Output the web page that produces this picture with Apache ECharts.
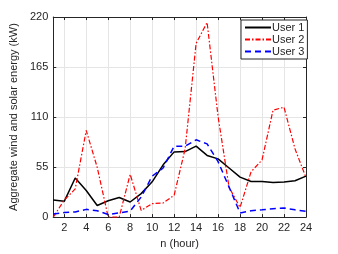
<!DOCTYPE html>
<html><head><meta charset="utf-8">
<script src="https://cdn.jsdelivr.net/npm/echarts@6/dist/echarts.min.js"></script>
<style>html,body{margin:0;padding:0;background:#fff}#c{width:338px;height:254px}</style>
</head><body><div id="c"></div>
<script>
const hours = [1,2,3,4,5,6,7,8,9,10,11,12,13,14,15,16,17,18,19,20,21,22,23,24];
const user1 = [18.7,17.3,43,29.3,12.7,18,21.5,16.6,25.8,38.8,57.5,71.7,72,78,67.8,64,54,44,39.2,39.2,38,38.5,40,45];
const user2 = [0,18.7,31,95.3,54.7,0,0,47,7.4,14.8,15.5,24,75,191,214,110.5,32.8,10.6,49.8,62.8,117.6,120.8,75,43.4];
const user3 = [3.5,5,5.6,8.5,7,2.8,4.6,6.7,22,45,54,78,78,85,80.5,61,33,4.6,7,8,9.2,10,8,6.4];
const xTicks = [2,4,6,8,10,12,14,16,18,20,22,24];
const yTicks = [0,55,110,165,220];

const pair = (ys) => hours.map((h,i)=>[h, ys[i]]);
const axisCol = '#262626';
const font = 'Liberation Sans, Arial, sans-serif';
const chart = echarts.init(document.getElementById('c'), null, {renderer:'canvas'});
chart.setOption({
  animation:false,
  backgroundColor:'#fff',
  grid:{left:44,right:32,top:17,bottom:30,show:false},
  legend:{
    orient:'vertical', left:241, top:20, padding:[2,3,2,3], itemGap:1,
    itemWidth:26, itemHeight:12, borderColor:axisCol, borderWidth:1, backgroundColor:'#fff',
    itemStyle:{opacity:0},
    textStyle:{fontSize:11, color:axisCol, fontFamily:font, padding:[0,0,0,-4]},
    data:['User 1','User 2','User 3']
  },
  xAxis:[{
    type:'value', min:1, max:24,
    name:'n (hour)', nameLocation:'middle', nameGap:17,
    nameTextStyle:{fontSize:11,color:axisCol,fontFamily:font},
    axisLine:{show:true,onZero:false,lineStyle:{color:axisCol,width:1}},
    axisTick:{show:true,inside:true,length:3,customValues:xTicks,lineStyle:{color:axisCol}},
    axisLabel:{customValues:xTicks,margin:5,fontSize:11,color:axisCol,fontFamily:font},
    splitLine:{show:true,lineStyle:{color:'#e5e5e5',width:1}}
  },{
    type:'value', min:1, max:24, position:'top',
    axisLine:{show:true,onZero:false,lineStyle:{color:axisCol,width:1}},
    axisTick:{show:true,inside:true,length:3,customValues:xTicks,lineStyle:{color:axisCol}},
    axisLabel:{show:false}, splitLine:{show:false}
  }],
  yAxis:[{
    type:'value', min:0, max:220, interval:55,
    name:'Aggregate wind and solar energy (kW)', nameLocation:'middle', nameGap:25,
    nameTextStyle:{fontSize:11,color:axisCol,fontFamily:font},
    axisLine:{show:true,lineStyle:{color:axisCol,width:1}},
    axisTick:{show:true,inside:true,length:3,lineStyle:{color:axisCol}},
    axisLabel:{margin:5,fontSize:11,color:axisCol,fontFamily:font},
    splitLine:{show:true,lineStyle:{color:'#e5e5e5',width:1}}
  },{
    type:'value', min:0, max:220, interval:55, position:'right',
    axisLine:{show:true,lineStyle:{color:axisCol,width:1}},
    axisTick:{show:true,inside:true,length:3,lineStyle:{color:axisCol}},
    axisLabel:{show:false}, splitLine:{show:false}
  }],
  series:[
    {name:'User 1',type:'line',data:pair(user1),symbol:'none',color:'#000',
     lineStyle:{color:'#000',width:1.5,type:'solid'}},
    {name:'User 2',type:'line',data:pair(user2),symbol:'none',color:'#ff0000',
     lineStyle:{color:'#ff0000',width:1.2,type:[5,2,1.5,2]}},
    {name:'User 3',type:'line',data:pair(user3),symbol:'none',color:'#0000ff',
     lineStyle:{color:'#0000ff',width:1.5,type:[6,4]}}
  ]
});
</script></body></html>
